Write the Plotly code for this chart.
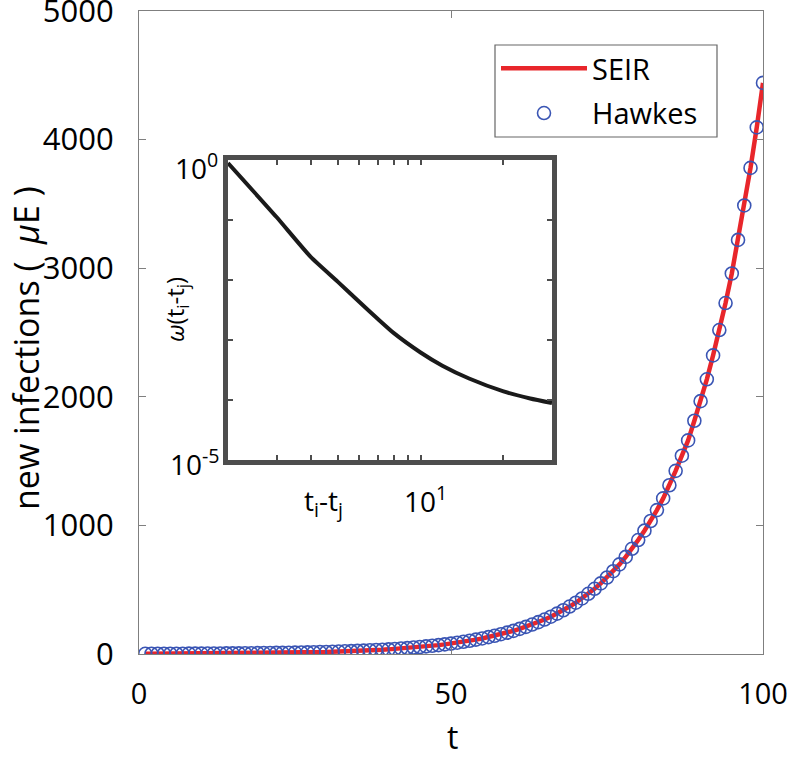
import plotly.graph_objects as go

# ---------------- data ----------------
t = list(range(1, 101))
seir = [1.5, 1.7, 1.8, 2.0, 2.2, 2.3, 2.5, 2.7, 3.0, 3.2,
        3.5, 3.8, 4.1, 4.5, 4.8, 5.2, 5.7, 6.2, 6.7, 7.2,
        7.8, 8.5, 9, 10, 11, 12, 13, 14, 15, 16,
        18, 19, 21, 22, 24, 26, 29, 31, 33, 36,
        39, 43, 46, 50, 54, 59, 64, 69, 75, 81,
        88, 95, 103, 112, 121, 131, 142, 154, 166, 180,
        195, 211, 229, 248, 268, 290, 314, 340, 369, 399,
        432, 468, 507, 549, 595, 644, 697, 755, 818, 886,
        959, 1034, 1119, 1210, 1312, 1424, 1542, 1661, 1814, 1966,
        2136, 2322, 2519, 2729, 2959, 3220, 3488, 3780, 4095, 4441]
hawkes = [1.5, 1.7, 1.8, 2.0, 2.2, 2.3, 2.5, 2.7, 3.0, 3.2,
          3.5, 3.8, 4.1, 4.5, 4.8, 5.2, 5.7, 6.2, 6.7, 7.2,
          7.8, 8.5, 9, 10, 11, 12, 13, 14, 15, 16,
          18, 19, 21, 22, 24, 26, 29, 31, 33, 36,
          39, 43, 46, 50, 54, 59, 64, 69, 75, 81,
          88, 95, 103, 112, 121, 131, 142, 154, 166, 180,
          195, 211, 229, 248, 268, 290, 314, 340, 369, 399,
          432, 468, 507, 549, 595, 644, 697, 755, 818, 886,
          959, 1034, 1119, 1210, 1312, 1424, 1542, 1661, 1814, 1966,
          2136, 2322, 2519, 2729, 2959, 3220, 3488, 3780, 4095, 4441]

lag = [2, 3, 4, 5, 6, 7, 8, 10, 12, 15, 20, 25, 30]
omega = [0.89, 0.112, 0.024, 0.0094, 0.0043, 0.00224, 0.0013, 0.00062,
         0.000373, 0.000228, 0.000139, 0.000106, 0.000089]

main_xticks = [0, 50, 100]
main_yticks = [0, 1000, 2000, 3000, 4000, 5000]
inset_yticks = [1e-5, 1e-4, 1e-3, 1e-2, 1e-1, 1]
inset_xticks = [3, 4, 5, 6, 7, 8, 9, 10, 20]

# ---------------- layout geometry (pixels) ----------------
W, H = 788, 761
L, R, T, B = 139, 763, 11, 654


def px(x):
    return (x - L) / (R - L)


def py(y):
    return (B - y) / (B - T)


FONT = "Open Sans"
AX = "#7f7f7f"
INSET = "#4d4d4d"
SP = "\u00a0"

fig = go.Figure()

fig.add_trace(go.Scatter(
    x=t, y=seir, mode="lines", name="SEIR", legendgroup="a",
    line=dict(color="#e8262b", width=4.5),
    xaxis="x", yaxis="y"))
fig.add_trace(go.Scatter(
    x=t, y=hawkes, mode="markers", name="Hawkes", legendgroup="b",
    marker=dict(symbol="circle-open", size=13, color="#3a55b4",
                line=dict(width=1.6, color="#3a55b4")),
    xaxis="x", yaxis="y"))
fig.add_trace(go.Scatter(
    x=lag, y=omega, mode="lines", showlegend=False,
    line=dict(color="#1a1a1a", width=4, shape="spline", smoothing=0.5),
    xaxis="x2", yaxis="y2"))

fig.update_layout(
    width=W, height=H,
    margin=dict(l=L, r=W - R, t=T, b=H - B, autoexpand=False),
    paper_bgcolor="white", plot_bgcolor="white",
    font=dict(family=FONT, color="black", size=30),
    showlegend=True,
    legend=dict(
        x=px(496), y=py(43), xanchor="left", yanchor="top",
        bgcolor="rgba(0,0,0,0)", borderwidth=0,
        font=dict(family=FONT, size=29, color="black"),
        itemwidth=86, tracegroupgap=4,
    ),
    shapes=[dict(type="rect", xref="paper", yref="paper",
                 x0=px(495), x1=px(717), y0=py(137), y1=py(45),
                 line=dict(color="#666666", width=1.2),
                 fillcolor="white", layer="above")],
    xaxis=dict(
        range=[0, 100], tickvals=main_xticks, ticks="inside", ticklen=7,
        tickcolor=AX, tickwidth=1, showline=True, linecolor=AX, linewidth=1.3,
        mirror="allticks", showgrid=False, zeroline=False, automargin=False,
        tickfont=dict(size=29), ticklabelstandoff=14,
        ticklabeloverflow="allow",
    ),
    yaxis=dict(
        range=[0, 5000], tickvals=main_yticks, ticks="inside", ticklen=7,
        tickcolor=AX, tickwidth=1, showline=True, linecolor=AX, linewidth=1.3,
        mirror="allticks", showgrid=False, zeroline=False, automargin=False,
        tickfont=dict(size=31), ticklabelstandoff=18,
        ticklabeloverflow="allow",
    ),
    xaxis2=dict(
        type="log", range=[0.30103, 1.47712], domain=[px(228), px(552)],
        anchor="y2", tickvals=inset_xticks, showticklabels=False,
        ticks="inside", ticklen=5, tickwidth=2, tickcolor=INSET,
        showline=True, linecolor=INSET, linewidth=5, mirror="allticks",
        showgrid=False, zeroline=False, automargin=False,
    ),
    yaxis2=dict(
        type="log", range=[-5, 0], domain=[py(460), py(160)],
        anchor="x2", tickvals=inset_yticks, showticklabels=False,
        ticks="inside", ticklen=5, tickwidth=2, tickcolor=INSET,
        showline=True, linecolor=INSET, linewidth=5, mirror="allticks",
        showgrid=False, zeroline=False, automargin=False,
    ),
)

annotations = [
    dict(text="new infections (" + SP * 2 + "<i>μ</i>E" + SP + ")",
         x=px(26), y=py(348),
         textangle=-90, font=dict(size=34, family=FONT)),
    dict(text="t", x=px(452), y=py(760), yanchor="bottom",
         font=dict(size=32, family=FONT)),
    # inset tick labels and titles
    dict(text="10<sup>0</sup>", x=px(220), y=py(166), xanchor="right",
         font=dict(size=28, family=FONT)),
    dict(text="10<sup>-5</sup>", x=px(222), y=py(463), xanchor="right",
         font=dict(size=28, family=FONT)),
    dict(text="10<sup>1</sup>", x=px(425), y=py(499),
         font=dict(size=28, family=FONT)),
    dict(text="t<sub>i</sub>-t<sub>j</sub>", x=px(323), y=py(502),
         font=dict(size=28, family=FONT)),
    dict(text="<i>ω</i>(t<sub>i</sub>-t<sub>j</sub>)", x=px(176), y=py(310),
         textangle=-90, font=dict(size=24, family=FONT)),
]
for a in annotations:
    a.setdefault("xanchor", "center")
    a.setdefault("yanchor", "middle")
    a.update(xref="paper", yref="paper", showarrow=False)
fig.update_layout(annotations=annotations)

fig.write_html(
    "out.html",
    config={"displayModeBar": False},
    post_script="document.body.style.margin='0';"
                "document.body.style.overflow='hidden';",
)
